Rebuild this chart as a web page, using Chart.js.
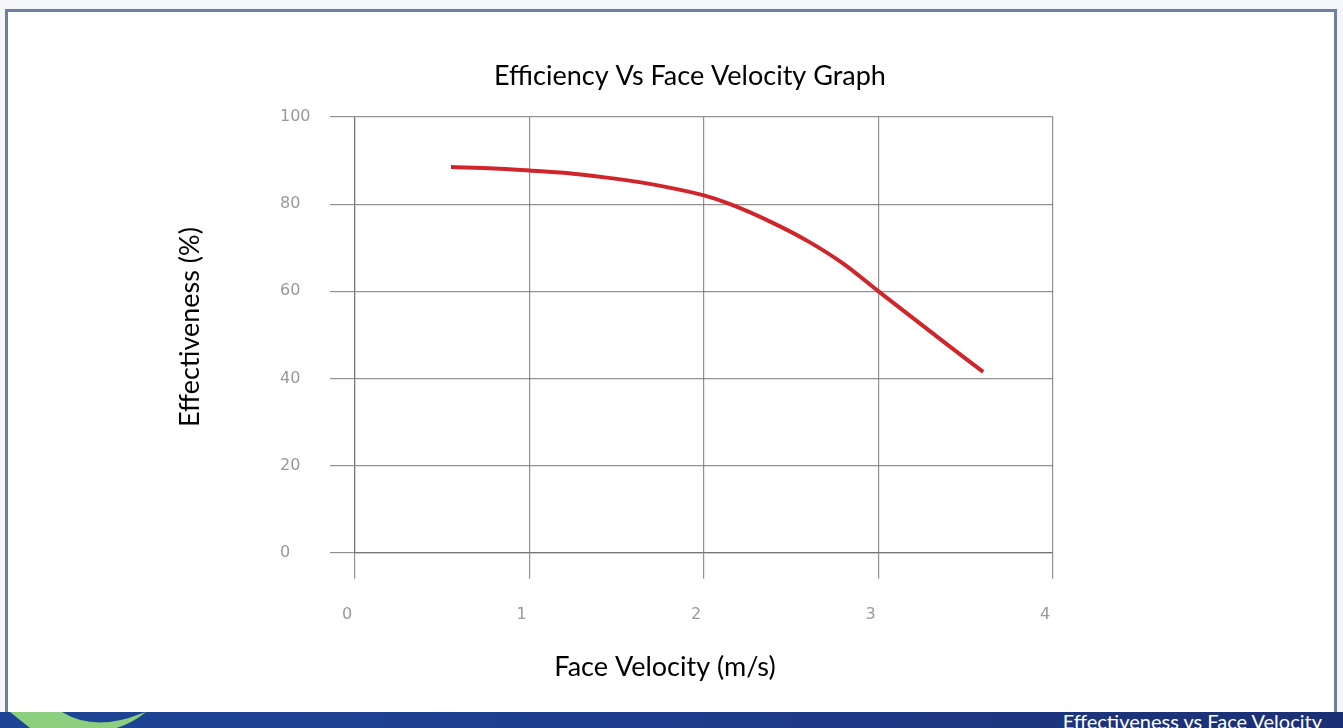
<!DOCTYPE html>
<html>
<head>
<meta charset="utf-8">
<script src="https://cdn.jsdelivr.net/npm/chart.js@4"></script>
<style>
  html, body { margin: 0; padding: 0; }
  body { width: 1343px; height: 728px; background: #f5f6f8; position: relative; overflow: hidden; font-family: Lato, sans-serif; }
  #frame { position: absolute; left: 5px; top: 9px; width: 1326px; height: 703px; background: #fff; border: 3px solid #6f7ea6; border-bottom: none; }
  #wrap { position: absolute; left: 0; top: 0; width: 1343px; height: 712px; }
  #band { position: absolute; left: 0; top: 712px; width: 1343px; height: 16px; background: linear-gradient(90deg, #1e4595 0%, #1f3d8c 50%, #1b2f74 100%); overflow: hidden; }
  #band svg { position: absolute; left: 0; top: 0; }
  #band span { position: absolute; right: 21px; top: -3px; color: #fff; font-size: 20px; font-family: Lato, sans-serif; white-space: nowrap; }
</style>
</head>
<body>
<div id="frame"></div>
<div id="wrap"><canvas id="grafikEfisiensi" width="1343" height="712"></canvas></div>
<div id="band">
  <svg width="200" height="16" viewBox="0 0 200 16">
    <path d="M10 0 L62 0 Q95 20 140 2 L146 0 Q110 30 50 16 L30 16 Q20 8 10 0 Z" fill="#8ccf7e"/>
  </svg>
  <span>Effectiveness vs Face Velocity</span>
</div>
<script>
// data
const kecepatan = [0.55, 0.8, 1.0, 1.25, 1.5, 1.75, 2.0, 2.15, 2.4, 2.6, 2.8, 3.0, 3.2, 3.4, 3.6];
const efektivitas = [88.5, 88.2, 87.7, 87.0, 85.8, 84.2, 82.0, 80.0, 75.6, 71.4, 66.3, 60.0, 53.8, 47.6, 41.5];
const xTicks = [0, 1, 2, 3, 4];
const yTicks = [0, 20, 40, 60, 80, 100];

const gridColor = 'rgba(110,110,110,0.75)';
const tickFont = { family: 'DejaVu Sans', size: 16 };

// titles placed like the slide (off-centre)
const judul = {
    id: 'judul',
    afterDraw(chart) {
        const c = chart.ctx;
        c.save();
        c.fillStyle = '#000';
        c.font = '27px Lato';
        c.textAlign = 'center';
        c.textBaseline = 'middle';
        c.fillText('Efficiency Vs Face Velocity Graph', 690, 76);
        c.fillText('Face Velocity (m/s)', 665, 667);
        c.translate(190, 327);
        c.rotate(-Math.PI / 2);
        c.fillText('Effectiveness (%)', 0, 0);
        c.restore();
    }
};

document.addEventListener("DOMContentLoaded", () => {
    const ctx = document.getElementById('grafikEfisiensi');
    if (!ctx) return;

    new Chart(ctx, {
        type: 'line',
        data: {
            datasets: [{
                label: 'Effectiveness',
                data: kecepatan.map((v, i) => ({ x: v, y: efektivitas[i] })),
                borderColor: '#d0262b',
                borderWidth: 4,
                pointRadius: 0,
                cubicInterpolationMode: 'monotone',
                fill: false
            }]
        },
        options: {
            responsive: false,
            animation: false,
            layout: { padding: { left: 280, right: 290, top: 117, bottom: 62 } },
            plugins: {
                legend: { display: false },
                tooltip: { enabled: false }
            },
            scales: {
                x: {
                    type: 'linear',
                    min: 0, max: 4,
                    afterBuildTicks: s => { s.ticks = xTicks.map(v => ({ value: v })); },
                    grid: { color: gridColor, lineWidth: 1.2, tickLength: 26 },
                    border: { color: gridColor, width: 1.2 },
                    ticks: { color: '#999', font: tickFont, padding: 26, labelOffset: -8 }
                },
                y: {
                    min: 0, max: 100,
                    afterBuildTicks: s => { s.ticks = yTicks.map(v => ({ value: v })); },
                    afterFit: s => { s.width = 75; },
                    grid: { color: gridColor, lineWidth: 1.2, tickLength: 25 },
                    border: { color: gridColor, width: 1.2 },
                    ticks: { color: '#999', font: tickFont, crossAlign: 'far' }
                }
            }
        },
        plugins: [judul]
    });
});
</script>
</body>
</html>
